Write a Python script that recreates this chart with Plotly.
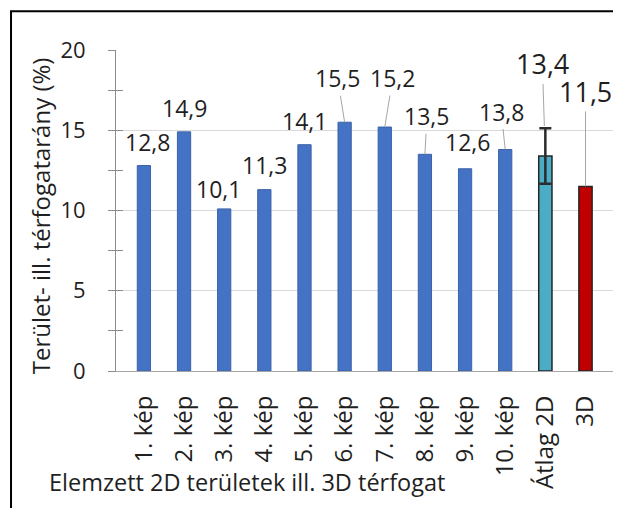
import plotly.graph_objects as go

# ---- data ----
categories = ["1. kép", "2. kép", "3. kép", "4. kép", "5. kép", "6. kép",
              "7. kép", "8. kép", "9. kép", "10. kép", "Átlag 2D", "3D"]
values = [12.8, 14.9, 10.1, 11.3, 14.1, 15.5, 15.2, 13.5, 12.6, 13.8, 13.4, 11.5]
value_labels = ["12,8", "14,9", "10,1", "11,3", "14,1", "15,5", "15,2",
                "13,5", "12,6", "13,8", "13,4", "11,5"]
mean_category = "Átlag 2D"
mean_value = 13.4
mean_error = 1.73

y_title = "Terület- ill. térfogatarány (%)"
x_title = "Elemzett 2D területek ill. 3D térfogat"

# ---- styles ----
FONT = "Open Sans"
TXT = "#1f1f1f"
bar_colors = ["#4472C4"] * 10 + ["#4BACC6", "#C00000"]
bar_line_colors = ["#3a62a8"] * 10 + ["#262626", "#262626"]
bar_line_widths = [1] * 10 + [1.5, 1.5]

label_dx = [4, 0, -6, 0, 0, -7, 8, 2, 2, -4, -3, 0]
label_dy = [-24, -24, -20, -25, -24, -44, -49, -38, -27, -38, -92, -95]
leader = [False, False, False, False, False, True, True, True, False, True, True, True]
standoff = [0, 0, 0, 0, 0, 0, 0, 0, 0, 0, 30, 0]
label_size = [23] * 10 + [27, 27]

fig = go.Figure()
fig.add_trace(go.Bar(
    x=categories, y=values,
    marker=dict(color=bar_colors, line=dict(color=bar_line_colors, width=bar_line_widths)),
    hoverinfo="skip", showlegend=False,
))
fig.add_trace(go.Scatter(
    x=[mean_category], y=[mean_value], mode="markers",
    marker=dict(size=1, color="rgba(0,0,0,0)"),
    error_y=dict(type="data", array=[mean_error], color="#2b2b2b", thickness=2.5, width=6),
    hoverinfo="skip", showlegend=False,
))
# invisible trace to carry the secondary (inside-tick) axis
fig.add_trace(go.Scatter(
    x=[categories[0]], y=[0], yaxis="y2", mode="markers",
    marker=dict(size=1, color="rgba(0,0,0,0)"), hoverinfo="skip", showlegend=False,
))

annotations = []
for i, (c, v, lab) in enumerate(zip(categories, values, value_labels)):
    annotations.append(dict(
        x=c, y=v, xref="x", yref="y", text=lab,
        showarrow=True, ax=label_dx[i], ay=label_dy[i],
        arrowhead=0, arrowwidth=1, standoff=standoff[i],
        arrowcolor="#a6a6a6" if leader[i] else "rgba(0,0,0,0)",
        font=dict(family=FONT, size=label_size[i], color=TXT),
    ))
annotations.append(dict(
    x=-0.1526, y=0.482, xref="paper", yref="paper", text=y_title, textangle=-90,
    showarrow=False, xanchor="center", yanchor="middle",
    font=dict(family=FONT, size=24, color=TXT),
))
annotations.append(dict(
    x=-0.1386, y=-0.347, xref="paper", yref="paper", text=x_title,
    showarrow=False, xanchor="left", yanchor="middle",
    font=dict(family=FONT, size=23.5, color=TXT),
))

frame = dict(color="#000000", width=2)
fig.update_layout(
    width=613, height=500,
    margin=dict(l=108, r=7, t=42, b=137),
    paper_bgcolor="white", plot_bgcolor="white",
    bargap=0.67,
    font=dict(family=FONT, color=TXT),
    xaxis=dict(
        type="category", showline=True, linecolor="#a6a6a6", linewidth=1,
        ticks="", tickangle=-90, tickfont=dict(family=FONT, size=24, color=TXT),
        ticklabelstandoff=14, showgrid=False, zeroline=False,
    ),
    yaxis=dict(
        range=[0, 20], tickmode="linear", tick0=0, dtick=5,
        ticks="outside", ticklen=7, tickcolor="#8c8c8c",
        minor=dict(dtick=2.5, ticks="outside", ticklen=7, tickcolor="#8c8c8c", showgrid=False),
        showline=True, linecolor="#8c8c8c", linewidth=1,
        showgrid=True, gridcolor="#d9d9d9", gridwidth=1, zeroline=False,
        tickfont=dict(family=FONT, size=22, color=TXT), ticklabelstandoff=18,
    ),
    yaxis2=dict(
        overlaying="y", side="left", range=[0, 20], tickmode="linear", tick0=0, dtick=2.5,
        ticks="inside", ticklen=7, tickcolor="#8c8c8c", showticklabels=False,
        showgrid=False, zeroline=False, showline=False,
    ),
    annotations=annotations,
    shapes=[
        dict(type="line", xref="paper", yref="paper", x0=-0.2108, x1=-0.2108,
             y0=-0.6, y1=1.1206, line=frame, layer="above"),
        dict(type="line", xref="paper", yref="paper", x0=-0.2128, x1=1.2,
             y0=1.1206, y1=1.1206, line=frame, layer="above"),
    ],
)

fig.write_html("out.html")
